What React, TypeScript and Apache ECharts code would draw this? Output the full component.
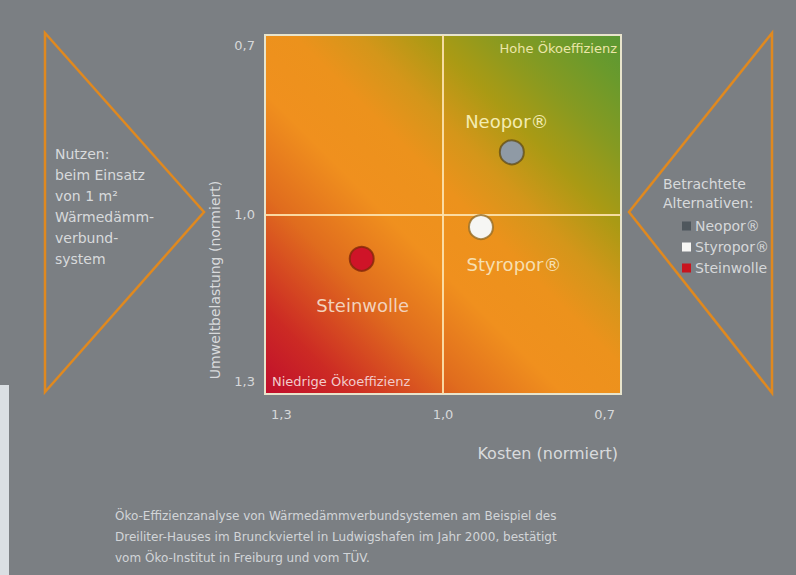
import React, { useEffect, useRef } from "react";
import * as echarts from "echarts";

const materials = ["Neopor®", "Styropor®", "Steinwolle"];
const costs = [0.884, 0.936, 1.137];
const impacts = [0.896, 1.021, 1.074];
const pointColors = ["#8f9aa5", "#f6f6f4", "#cf1428"];
const legendColors = ["#4f575d", "#f6f6f4", "#c8141e"];
const tickValues = [0.7, 1.0, 1.3];
const leftText = ["Nutzen:", "beim Einsatz", "von 1 m²", "Wärmedämm-", "verbund-", "system"];
const rightText = ["Betrachtete", "Alternativen:"];
const caption = [
  "Öko-Effizienzanalyse von Wärmedämmverbundsystemen am Beispiel des",
  "Dreiliter-Hauses im Brunckviertel in Ludwigshafen im Jahr 2000, bestätigt",
  "vom Öko-Institut in Freiburg und vom TÜV.",
];

const FONT = "DejaVu Sans";

const fmtTick = (v: number) => {
  const r = Math.round(v * 10) / 10;
  return tickValues.some((t) => Math.abs(t - r) < 1e-6) ? r.toFixed(1).replace(".", ",") : "";
};

export default function App() {
  const ref = useRef<HTMLDivElement>(null);
  useEffect(() => {
    if (!ref.current) return;
    const chart = echarts.init(ref.current, null, { renderer: "svg" });
    const labelCfg = [
      { position: "top", distance: 9, offset: [-5, 0], color: "#f3ecb2" },
      { position: "bottom", distance: 15, offset: [33, 0], color: "#f6dfb0" },
      { position: "bottom", distance: 25, offset: [1, 0], color: "#f2d2bc" },
    ];
    const borderCols = ["rgba(90,70,20,0.7)", "rgba(150,110,40,0.8)", "rgba(130,40,10,0.8)"];
    const series: any[] = materials.map((name, i) => ({
      type: "scatter",
      name,
      z: 5,
      symbol: "circle",
      symbolSize: 24,
      data: [[costs[i], impacts[i]]],
      itemStyle: { color: pointColors[i], borderColor: borderCols[i], borderWidth: 2, opacity: 1 },
      label: {
        show: true,
        formatter: name,
        position: labelCfg[i].position,
        distance: labelCfg[i].distance,
        offset: labelCfg[i].offset,
        color: labelCfg[i].color,
        fontSize: 18,
        fontFamily: FONT,
      },
      emphasis: { disabled: true },
    }));
    series[0].markLine = {
      silent: true,
      symbol: "none",
      label: { show: false },
      lineStyle: { color: "rgba(252,226,172,0.92)", width: 2, type: "solid" },
      data: [{ xAxis: 1.0 }, { yAxis: 1.0 }],
    };

    const bg = new echarts.graphic.LinearGradient(0, 1, 1, 0, [
      { offset: 0, color: "#c00e2c" },
      { offset: 0.12, color: "#cc2a24" },
      { offset: 0.28, color: "#e06c1e" },
      { offset: 0.42, color: "#f0901e" },
      { offset: 0.54, color: "#ec921c" },
      { offset: 0.63, color: "#d4961a" },
      { offset: 0.73, color: "#aa9a14" },
      { offset: 0.84, color: "#849a22" },
      { offset: 0.93, color: "#6a9a2c" },
      { offset: 1, color: "#5a9834" },
    ]);

    const tri = (pts: number[][]) => ({
      type: "polygon",
      shape: { points: pts },
      style: { fill: "none", stroke: "#e0891f", lineWidth: 2.5 },
      silent: true,
    });

    chart.setOption({
      animation: false,
      backgroundColor: "#7b7f83",
      textStyle: { fontFamily: FONT },
      grid: {
        left: 265,
        top: 35,
        width: 356,
        height: 359,
        show: true,
        backgroundColor: bg,
        borderColor: "#e8e4cc",
        borderWidth: 2,
      },
      xAxis: {
        type: "value",
        min: 0.7,
        max: 1.3,
        interval: 0.1,
        inverse: true,
        axisLine: { show: false },
        axisTick: { show: false },
        splitLine: { show: false },
        axisLabel: {
          formatter: fmtTick,
          color: "#d6d8da",
          fontSize: 13,
          fontFamily: FONT,
          margin: 14,
          alignMinLabel: "right",
          alignMaxLabel: "left",
          padding: [0, 6, 0, 6],
        },
      },
      yAxis: {
        type: "value",
        min: 0.7,
        max: 1.3,
        interval: 0.1,
        inverse: true,
        axisLine: { show: false },
        axisTick: { show: false },
        splitLine: { show: false },
        axisLabel: {
          formatter: fmtTick,
          color: "#d6d8da",
          fontSize: 13,
          fontFamily: FONT,
          margin: 10,
          verticalAlignMinLabel: "top",
          verticalAlignMaxLabel: "bottom",
          padding: [4, 0, 6, 0],
        },
      },
      legend: {
        orient: "vertical",
        left: 677,
        top: 214,
        icon: "rect",
        itemWidth: 9,
        itemHeight: 9,
        itemGap: 7,
        selectedMode: false,
        textStyle: { color: "#d6d8da", fontSize: 14, fontFamily: FONT, padding: [0, 0, 0, -1] },
        data: materials.map((name, i) => ({ name, itemStyle: { color: legendColors[i], borderWidth: 0 } })),
      },
      graphic: [
        { type: "rect", shape: { x: 0, y: 385, width: 9, height: 190 }, style: { fill: "#dadfe3" }, silent: true },
        tri([[45, 33], [45, 392], [204, 212]]),
        tri([[772, 33], [772, 393], [629, 212]]),
        {
          type: "text",
          x: 55,
          y: 143,
          silent: true,
          style: { text: leftText.join("\n"), fill: "#d8dadc", fontSize: 14, fontFamily: FONT, lineHeight: 21 },
        },
        {
          type: "text",
          x: 663,
          y: 174,
          silent: true,
          style: { text: rightText.join("\n"), fill: "#d8dadc", fontSize: 14, fontFamily: FONT, lineHeight: 19 },
        },
        {
          type: "text",
          x: 617,
          y: 48,
          silent: true,
          z: 10,
          style: { text: "Hohe Ökoeffizienz", fill: "#ece6a8", fontSize: 13, fontFamily: FONT, align: "right", verticalAlign: "middle" },
        },
        {
          type: "text",
          x: 272,
          y: 381,
          silent: true,
          z: 10,
          style: { text: "Niedrige Ökoeffizienz", fill: "#f2cccc", fontSize: 13, fontFamily: FONT, align: "left", verticalAlign: "middle" },
        },
        {
          type: "text",
          x: 618,
          y: 453,
          silent: true,
          style: { text: "Kosten (normiert)", fill: "#d8dadc", fontSize: 16, fontFamily: FONT, align: "right", verticalAlign: "middle" },
        },
        {
          type: "text",
          x: 215,
          y: 280,
          rotation: Math.PI / 2,
          silent: true,
          style: { text: "Umweltbelastung (normiert)", fill: "#d8dadc", fontSize: 14, fontFamily: FONT, align: "center", verticalAlign: "middle" },
        },
        {
          type: "text",
          x: 115,
          y: 505,
          silent: true,
          style: { text: caption.join("\n"), fill: "#d2d5d8", fontSize: 12, fontFamily: FONT, lineHeight: 21 },
        },
      ],
      series,
    });
    return () => chart.dispose();
  }, []);
  return <div ref={ref} style={{ position: "absolute", left: 0, top: 0, width: 796, height: 575 }} />;
}
